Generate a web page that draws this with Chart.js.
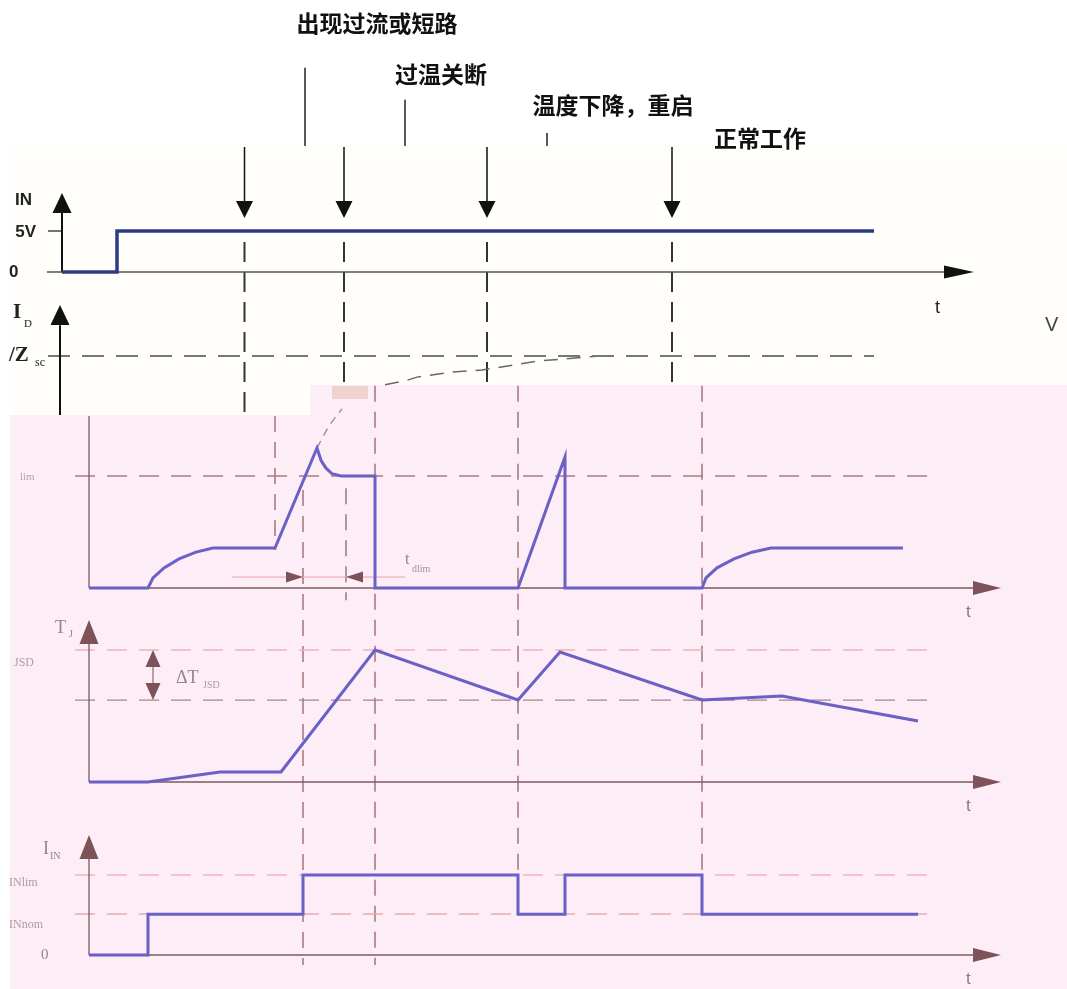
<!DOCTYPE html>
<html>
<head>
<meta charset="utf-8">
<title>过流/过温保护时序图</title>
<script src="https://cdn.jsdelivr.net/npm/chart.js@4.4.1/dist/chart.umd.min.js"></script>
<style>
html, body { margin: 0; padding: 0; background: #fff; overflow: hidden; }
canvas { display: block; }
</style>
</head>
<body>
<canvas id="diagram" width="1067" height="989"></canvas>
<script>
const W = 1067, H = 989;

// ---------- top picture (input voltage, I_D limit), time in arbitrary units
const inTimes  = [0, 5.5, 5.5, 81.2];
const inLevels = [0, 0, 5, 5];                      // V
const eventTimes   = [18.25, 28.2, 42.5, 61.0];     // the four down arrows
const eventBottoms = [-17.44, -13.78, -13.78, -13.78];
const pointerTimes = [24.3, 34.3, 48.5];
const pointerTops  = [24.9, 21.0, 16.95];
const scTimes  = [32.3, 34.5, 35.5, 39.1, 42.0, 47.5, 53.8];
const scLevels = [0.55, 0.62, 0.67, 0.75, 0.78, 0.92, 1.0];   // I_D in V/Zsc

// ---------- bottom picture (I_D, T_J, I_IN)
const idTimes  = [0, 5.9, 6.4, 7.5, 9.0, 10.7, 12.4, 18.6, 22.8, 23.2, 23.7, 24.3, 25.2, 28.6, 28.6, 42.9, 47.6, 47.6, 61.3, 61.7, 62.8, 64.5, 66.3, 68.2, 81.4];
const idLevels = [0, 0, 0.09, 0.18, 0.26, 0.32, 0.357, 0.357, 1.25, 1.14, 1.07, 1.02, 1.0, 1.0, 0, 0, 1.17, 0, 0, 0.09, 0.18, 0.26, 0.32, 0.357, 0.357];
const tjTimes  = [0, 5.9, 13.1, 19.2, 28.6, 42.9, 47.1, 61.3, 69.3, 82.9];
const tjLevels = [0, 0, 0.076, 0.076, 1.0, 0.621, 0.985, 0.621, 0.652, 0.462];
const iinTimes  = [0, 5.9, 5.9, 21.4, 21.4, 42.9, 42.9, 47.6, 47.6, 61.3, 61.3, 82.9];
const iinLevels = [0, 0, 0.51, 0.51, 1, 1, 0.51, 0.51, 1, 1, 0.51, 0.51];
const scTailTimes  = [22.8, 24.0, 25.3];
const scTailLevels = [1.25, 1.45, 1.6];
const tjsdLow = 0.621, iinNom = 0.5125, dlimFrom = 21.4, dlimTo = 25.7;

// dashed markers in the bottom picture: time, from [scale, value], to [scale, value]
const bottomMarks = [
    { t: 18.6, from: ['yID', 1.536], to: ['yID', 0.34] },
    { t: 21.4, from: ['yID', 0.875], to: ['yIIN', -0.125] },
    { t: 25.7, from: ['yID', 0.89],  to: ['yID', -0.11] },
    { t: 28.6, from: ['yID', 1.805], to: ['yIIN', -0.125] },
    { t: 42.9, from: ['yID', 1.805], to: ['yIIN', 0.5] },
    { t: 61.3, from: ['yID', 1.805], to: ['yIIN', 0.5] }
];

// value 0 of a panel sits at zeroPx, one unit is pxPerUnit tall
function band(zeroPx, pxPerUnit) {
    return { min: -(H - zeroPx) / pxPerUnit, max: zeroPx / pxPerUnit };
}
function pts(xs, ys) {
    return xs.map((x, i) => ({ x: x, y: ys[i] }));
}
function line(data, xAxisID, yAxisID, color, width, dash) {
    return {
        data: data, xAxisID: xAxisID, yAxisID: yAxisID,
        showLine: true, fill: false, tension: 0,
        borderColor: color, borderWidth: width, borderDash: dash || [],
        pointRadius: 0, borderJoinStyle: 'miter', borderCapStyle: 'butt'
    };
}

const PURPLE = '#6a60c6', BROWN = '#7b5a5f', NAVY = '#2d3b84';

const datasets = [
    // waveforms
    line(pts(inTimes, inLevels), 'xT', 'yIN', NAVY, 3.5),
    line(pts(idTimes, idLevels), 'xB', 'yID', PURPLE, 3),
    line(pts(tjTimes, tjLevels), 'xB', 'yTJ', PURPLE, 3),
    line(pts(iinTimes, iinLevels), 'xB', 'yIIN', PURPLE, 3),
    // top axes
    line([{x: -1.5, y: 0}, {x: 88.2, y: 0}], 'xT', 'yIN', '#555', 1.5),
    line([{x: 0, y: 0}, {x: 0, y: 7.4}], 'xT', 'yIN', '#111', 2),
    line([{x: -1.4, y: 5}, {x: 0, y: 5}], 'xT', 'yIN', '#444', 1.5),
    line([{x: -0.2, y: 0.078}, {x: -0.2, y: 1.48}], 'xT', 'yIDt', '#111', 2),
    line([{x: -1.4, y: 1}, {x: 81.2, y: 1}], 'xT', 'yIDt', '#777', 2, [22, 12]),
    line(pts(scTimes, scLevels), 'xT', 'yIDt', '#666', 1.5, [14, 9]),
    // bottom axes
    line([{x: 0, y: 0}, {x: 88.4, y: 0}], 'xB', 'yID', BROWN, 1.3),
    line([{x: 0, y: 0}, {x: 0, y: 1.536}], 'xB', 'yID', BROWN, 1.3),
    line([{x: 0, y: 0}, {x: 88.4, y: 0}], 'xB', 'yTJ', BROWN, 1.3),
    line([{x: 0, y: 0}, {x: 0, y: 1.05}], 'xB', 'yTJ', BROWN, 1.3),
    line([{x: 0, y: 0}, {x: 88.4, y: 0}], 'xB', 'yIIN', BROWN, 1.3),
    line([{x: 0, y: 0}, {x: 0, y: 1.2}], 'xB', 'yIIN', BROWN, 1.3),
    // bottom reference levels
    line([{x: -1.4, y: 1}, {x: 84.3, y: 1}], 'xB', 'yID', '#a67c82', 1.3, [20, 12]),
    line([{x: -1.4, y: 1}, {x: 84.1, y: 1}], 'xB', 'yTJ', '#efb3b7', 1.3, [20, 12]),
    line([{x: -1.4, y: tjsdLow}, {x: 84.1, y: tjsdLow}], 'xB', 'yTJ', '#a8868c', 1.3, [20, 12]),
    line([{x: -1.4, y: 1}, {x: 84.1, y: 1}], 'xB', 'yIIN', '#f0b4b8', 1.3, [20, 12]),
    line([{x: -1.4, y: iinNom}, {x: 84.1, y: iinNom}], 'xB', 'yIIN', '#e6a9ae', 1.3, [20, 12]),
    line([{x: 14.3, y: 0.098}, {x: 31.6, y: 0.098}], 'xB', 'yID', '#eaa5a8', 1),
    line([{x: 6.4, y: tjsdLow + 0.1}, {x: 6.4, y: 0.9}], 'xB', 'yTJ', '#a08589', 1.5),
    line(pts(scTailTimes, scTailLevels), 'xB', 'yID', '#9c8a8e', 1.3, [8, 6])
];
eventTimes.forEach(t => {
    datasets.push(line([{x: t, y: 15.24}, {x: t, y: 8.4}], 'xT', 'yIN', '#111', 1.5));
});
pointerTimes.forEach((t, i) => {
    datasets.push(line([{x: t, y: pointerTops[i]}, {x: t, y: 15.37}], 'xT', 'yIN', '#222', 1.5));
});
eventTimes.forEach((t, i) => {
    datasets.push(line([{x: t, y: 3.66}, {x: t, y: eventBottoms[i]}], 'xT', 'yIN', '#333', 2, [20, 10]));
});

// arrow heads: tip at (t, v) on the given scales
const arrows = [
    { x: 'xT', y: 'yIN', t: 91.2, v: 0, dir: 'right', len: 30, w: 13, c: '#111' },
    { x: 'xT', y: 'yIN', t: 0, v: 9.63, dir: 'up', len: 20, w: 19, c: '#111' },
    { x: 'xT', y: 'yIDt', t: -0.2, v: 1.797, dir: 'up', len: 20, w: 19, c: '#111' },
    { x: 'xB', y: 'yID', t: 91.2, v: 0, dir: 'right', len: 28, w: 14, c: '#7d5258' },
    { x: 'xB', y: 'yTJ', t: 91.2, v: 0, dir: 'right', len: 28, w: 14, c: '#7d5258' },
    { x: 'xB', y: 'yIIN', t: 91.2, v: 0, dir: 'right', len: 28, w: 14, c: '#7d5258' },
    { x: 'xB', y: 'yTJ', t: 0, v: 1.227, dir: 'up', len: 24, w: 19, c: '#7d5258' },
    { x: 'xB', y: 'yIIN', t: 0, v: 1.5, dir: 'up', len: 24, w: 19, c: '#7d5258' },
    { x: 'xB', y: 'yTJ', t: 6.4, v: 1.0, dir: 'up', len: 17, w: 15, c: '#7d5258' },
    { x: 'xB', y: 'yTJ', t: 6.4, v: tjsdLow, dir: 'down', len: 17, w: 15, c: '#7d5258' },
    { x: 'xB', y: 'yID', t: dlimFrom, v: 0.098, dir: 'right', len: 17, w: 11, c: '#7d5258' },
    { x: 'xB', y: 'yID', t: dlimTo, v: 0.098, dir: 'left', len: 17, w: 11, c: '#7d5258' }
].concat(eventTimes.map(t => ({ x: 'xT', y: 'yIN', t: t, v: 6.59, dir: 'down', len: 17, w: 17, c: '#111' })));

const CJK = 'bold 23px "Noto Sans CJK SC"';
const SERIF = '"Liberation Serif", "DejaVu Serif", serif';
const labels = [
    { s: '出现过流或短路', x: 377, y: 23, f: CJK, c: '#111', a: 'center' },
    { s: '过温关断', x: 441, y: 74, f: CJK, c: '#111', a: 'center' },
    { s: '温度下降，重启', x: 613, y: 105, f: CJK, c: '#111', a: 'center' },
    { s: '正常工作', x: 760, y: 138, f: CJK, c: '#111', a: 'center' },
    { s: 'IN', x: 15, y: 200, f: 'bold 17px "Liberation Sans"', c: '#222' },
    { s: '5V', x: 36, y: 232, f: 'bold 17px "Liberation Sans"', c: '#222', a: 'right' },
    { s: '0', x: 9, y: 272, f: 'bold 17px "Liberation Sans"', c: '#222' },
    { s: 'I', x: 13, y: 313, f: 'bold 21px ' + SERIF, c: '#222' },
    { s: 'D', x: 24, y: 324, f: '11px ' + SERIF, c: '#222' },
    { s: '/Z', x: 9, y: 356, f: 'bold 21px ' + SERIF, c: '#222' },
    { s: 'sc', x: 35, y: 363, f: '12px ' + SERIF, c: '#222' },
    { s: 't', x: 935, y: 308, f: '18px "Liberation Sans"', c: '#222' },
    { s: 'V', x: 1045, y: 325, f: '20px "Liberation Sans"', c: '#444' },
    { s: 'lim', x: 20, y: 477, f: '11px ' + SERIF, c: '#b9a3a8' },
    { s: 't', x: 405, y: 560, f: '16px ' + SERIF, c: '#9c8187' },
    { s: 'dlim', x: 412, y: 569, f: '10px ' + SERIF, c: '#a88e94' },
    { s: 'T', x: 55, y: 628, f: '18px ' + SERIF, c: '#9c8187' },
    { s: 'J', x: 69, y: 634, f: '10px ' + SERIF, c: '#9c8187' },
    { s: 'JSD', x: 14, y: 663, f: '12px ' + SERIF, c: '#b09aa0' },
    { s: 'ΔT', x: 176, y: 678, f: '18px ' + SERIF, c: '#9c8187' },
    { s: 'JSD', x: 203, y: 685, f: '10px ' + SERIF, c: '#b09aa0' },
    { s: 'I', x: 43, y: 849, f: '18px ' + SERIF, c: '#9c8187' },
    { s: 'IN', x: 50, y: 856, f: '10px ' + SERIF, c: '#9c8187' },
    { s: 'INlim', x: 9, y: 883, f: '12px ' + SERIF, c: '#b09aa0' },
    { s: 'INnom', x: 9, y: 925, f: '12px ' + SERIF, c: '#b09aa0' },
    { s: '0', x: 41, y: 955, f: '15px ' + SERIF, c: '#9c8187' },
    { s: 't', x: 966, y: 612, f: '17px "Liberation Sans"', c: '#8a7a80' },
    { s: 't', x: 966, y: 806, f: '17px "Liberation Sans"', c: '#8a7a80' },
    { s: 't', x: 966, y: 979, f: '17px "Liberation Sans"', c: '#8a7a80' }
];

const sheetPlugin = {
    id: 'sheet',
    beforeDraw(chart) {
        const ctx = chart.ctx;
        ctx.save();
        ctx.fillStyle = '#ffffff';
        ctx.fillRect(0, 0, W, H);
        ctx.fillStyle = '#fffefa';
        ctx.fillRect(10, 147, W - 10, 268);
        // second (pink) picture pasted over the lower part
        ctx.fillStyle = '#fcedf7';
        ctx.beginPath();
        ctx.moveTo(10, 415); ctx.lineTo(310, 415); ctx.lineTo(310, 385);
        ctx.lineTo(W, 385); ctx.lineTo(W, H); ctx.lineTo(10, H);
        ctx.closePath();
        ctx.fill();
        ctx.fillStyle = '#f1d3cd';
        ctx.fillRect(332, 386, 36, 13);
        ctx.restore();
    },
    beforeDatasetsDraw(chart) {
        const ctx = chart.ctx, s = chart.scales;
        ctx.save();
        ctx.strokeStyle = '#a27378';
        ctx.lineWidth = 1.5;
        ctx.setLineDash([16, 10]);
        bottomMarks.forEach(m => {
            const px = s.xB.getPixelForValue(m.t);
            ctx.beginPath();
            ctx.moveTo(px, s[m.from[0]].getPixelForValue(m.from[1]));
            ctx.lineTo(px, s[m.to[0]].getPixelForValue(m.to[1]));
            ctx.stroke();
        });
        ctx.restore();
    },
    afterDatasetsDraw(chart) {
        const ctx = chart.ctx, s = chart.scales;
        const rot = { right: 0, down: Math.PI / 2, left: Math.PI, up: -Math.PI / 2 };
        arrows.forEach(a => {
            ctx.save();
            ctx.translate(s[a.x].getPixelForValue(a.t), s[a.y].getPixelForValue(a.v));
            ctx.rotate(rot[a.dir]);
            ctx.fillStyle = a.c;
            ctx.beginPath();
            ctx.moveTo(0, 0);
            ctx.lineTo(-a.len, -a.w / 2);
            ctx.lineTo(-a.len, a.w / 2);
            ctx.closePath();
            ctx.fill();
            ctx.restore();
        });
        ctx.save();
        ctx.textBaseline = 'middle';
        labels.forEach(l => {
            ctx.font = l.f;
            ctx.fillStyle = l.c;
            ctx.textAlign = l.a || 'left';
            ctx.fillText(l.s, l.x, l.y);
        });
        ctx.restore();
    }
};

const hidden = { type: 'linear', display: false };
new Chart(document.getElementById('diagram'), {
    type: 'scatter',
    data: { datasets: datasets },
    options: {
        responsive: false,
        animation: false,
        devicePixelRatio: 1,
        layout: { padding: 0 },
        plugins: { legend: { display: false }, tooltip: { enabled: false }, title: { display: false } },
        scales: {
            xT: Object.assign({}, hidden, { position: 'bottom', min: -6.2, max: 100.5 }),
            xB: Object.assign({}, hidden, { position: 'bottom', min: -8.9, max: 97.8 }),
            yIN: Object.assign({}, hidden, { position: 'left' }, band(272, 8.2)),
            yIDt: Object.assign({}, hidden, { position: 'left' }, band(420, 64)),
            yID: Object.assign({}, hidden, { position: 'left' }, band(588, 112)),
            yTJ: Object.assign({}, hidden, { position: 'left' }, band(782, 132)),
            yIIN: Object.assign({}, hidden, { position: 'left' }, band(955, 80))
        }
    },
    plugins: [sheetPlugin]
});
</script>
</body>
</html>
